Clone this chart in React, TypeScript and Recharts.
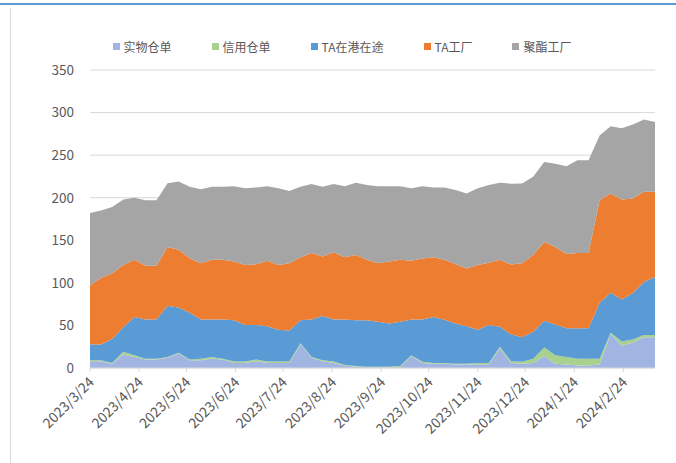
import React from "react"
import { AreaChart, Area, XAxis, YAxis, CartesianGrid, Legend } from "recharts"

const DATES = [
  "2023/3/24", "2023/3/31", "2023/4/7", "2023/4/14", "2023/4/21", "2023/4/28",
  "2023/5/5", "2023/5/12", "2023/5/19", "2023/5/26", "2023/6/2", "2023/6/9",
  "2023/6/16", "2023/6/23", "2023/6/30", "2023/7/7", "2023/7/14", "2023/7/21",
  "2023/7/28", "2023/8/4", "2023/8/11", "2023/8/18", "2023/8/25", "2023/9/1",
  "2023/9/8", "2023/9/15", "2023/9/22", "2023/9/29", "2023/10/6", "2023/10/13",
  "2023/10/20", "2023/10/27", "2023/11/3", "2023/11/10", "2023/11/17", "2023/11/24",
  "2023/12/1", "2023/12/8", "2023/12/15", "2023/12/22", "2023/12/29", "2024/1/5",
  "2024/1/12", "2024/1/19", "2024/1/26", "2024/2/2", "2024/2/9", "2024/2/16",
  "2024/2/23", "2024/3/1", "2024/3/8", "2024/3/15",
]

const SHIWU = [
  8, 8, 5, 16, 13, 10, 10, 12, 17, 9, 9, 11, 10, 6, 6, 8, 6, 6, 6, 28,
  12, 8, 6, 3, 1.5, 1, 0.5, 0.5, 1, 14, 6, 5, 5, 4, 4, 4.5, 4.5, 23, 6, 5,
  6, 14, 5, 4, 3, 3, 4, 40, 26, 30, 36, 36,
]
const XINYONG = [
  1.5, 1, 1, 3, 2, 1, 1, 1, 1, 1, 2, 2, 1, 1.5, 1.5, 2, 1.5, 1.5, 1.5, 1,
  1, 1, 1.5, 0.5, 0.8, 0.5, 1, 1, 1.3, 1, 1.4, 1, 1, 1, 1, 1.5, 1.5, 2, 2, 2.4,
  5, 10, 10, 9, 8, 8, 7, 1.5, 5, 3.6, 2.7, 2.7,
]
const TA_PORT = [
  18.5, 18.5, 28, 29, 45, 46, 46, 60, 53, 55, 46, 44, 46, 48.5, 43, 40.5, 41.5, 37.5, 36.5, 27,
  44, 52, 49.5, 53.5, 53.7, 54.5, 52.9, 50.9, 52.1, 42, 49.6, 54, 50.6, 47.4, 44, 39, 44.5, 23.5, 31.5, 28.6,
  31.6, 31.5, 36, 33.6, 35.6, 35.6, 65.7, 46.9, 49.6, 54.4, 62.3, 68.3,
]
const TA_FACTORY = [
  69, 78.5, 77, 73, 67, 63, 63, 69, 68, 64, 66, 70, 70, 69, 70.5, 71.5, 77, 76, 79, 74,
  78, 70, 79, 73, 76.6, 71, 68.6, 72.6, 72.6, 69, 71.7, 70, 70.4, 69.6, 68, 76, 73.1, 78.5, 82, 87,
  90, 92.5, 91, 87.4, 88.4, 88.4, 120.3, 116.6, 117.4, 111, 106, 100,
]
const POLY_FACTORY = [
  85, 79, 78, 77, 73, 77, 77, 75, 80, 84, 87, 86, 86, 88.6, 90, 90, 87.6, 90, 85, 83,
  81, 82, 80, 83.6, 85, 88, 90.6, 88.6, 86.6, 85, 84.9, 82, 85, 87, 88, 90, 91.2, 90.5, 95, 93.7,
  91.9, 94, 98, 103, 109, 109, 76, 79, 83.5, 87, 85, 82,
]

const TICK_LABELS = [
  "2023/3/24", "2023/4/24", "2023/5/24", "2023/6/24", "2023/7/24", "2023/8/24",
  "2023/9/24", "2023/10/24", "2023/11/24", "2023/12/24", "2024/1/24", "2024/2/24",
]
const Y_TICKS = [0, 50, 100, 150, 200, 250, 300, 350]

const SERIES = [
  { key: "shiwu", name: "实物仓单", color: "#a2b5e2", values: SHIWU },
  { key: "xinyong", name: "信用仓单", color: "#a9d18e", values: XINYONG },
  { key: "taPort", name: "TA在港在途", color: "#5b9bd5", values: TA_PORT },
  { key: "taFactory", name: "TA工厂", color: "#ed7d31", values: TA_FACTORY },
  { key: "polyFactory", name: "聚酯工厂", color: "#a5a5a5", values: POLY_FACTORY },
]

const FONT = "'Noto Sans CJK SC', 'Noto Sans', sans-serif"

function toTime(s: string): number {
  const [y, m, d] = s.split("/").map(Number)
  return Date.UTC(y, m - 1, d)
}

const data = DATES.map((d, i) => {
  const row: Record<string, number> = { t: toTime(d) }
  SERIES.forEach((s) => {
    row[s.key] = s.values[i]
  })
  return row
})

const tickTimes = TICK_LABELS.map(toTime)

function formatDate(v: number): string {
  const dt = new Date(v)
  return `${dt.getUTCFullYear()}/${dt.getUTCMonth() + 1}/${dt.getUTCDate()}`
}

type TickProps = {
  x?: number
  y?: number
  payload?: { value: number }
}

function DateTick({ x = 0, y = 0, payload }: TickProps) {
  return (
    <g transform={`translate(${x + 5},${y + 9})`}>
      <text
        textAnchor="end"
        fill="#595959"
        fontSize={14}
        fontFamily={FONT}
        transform="rotate(-45)"
      >
        {payload ? formatDate(payload.value) : ""}
      </text>
    </g>
  )
}

function LegendContent() {
  return (
    <div
      style={{
        display: "flex",
        justifyContent: "center",
        gap: 40,
        fontFamily: FONT,
        fontSize: 12,
        color: "#595959",
      }}
    >
      {SERIES.map((s) => (
        <div key={s.key} style={{ display: "flex", alignItems: "center" }}>
          <span
            style={{
              display: "inline-block",
              width: 7,
              height: 7,
              background: s.color,
              marginRight: 4,
            }}
          />
          <span>{s.name}</span>
        </div>
      ))}
    </div>
  )
}

export default function App() {
  return (
    <div
      style={{
        position: "absolute",
        left: 0,
        top: 0,
        width: 676,
        height: 463,
        background: "#fff",
        overflow: "hidden",
      }}
    >
      <div style={{ position: "absolute", left: 0, top: 3, width: 676, height: 2, background: "#5b9bd5" }} />
      <div style={{ position: "absolute", left: 10, top: 8, width: 1, height: 455, background: "#d9d9d9" }} />
      <div style={{ position: "absolute", left: 0, top: 0 }}>
        <AreaChart
          width={676}
          height={463}
          data={data}
          margin={{ top: 70, right: 21, left: 40, bottom: 0 }}
        >
          <CartesianGrid horizontal vertical={false} stroke="#d9d9d9" />
          <XAxis
            dataKey="t"
            type="number"
            scale="time"
            domain={[tickTimes[0], toTime(DATES[DATES.length - 1])]}
            ticks={tickTimes}
            tick={<DateTick />}
            interval={0}
            height={95}
            tickSize={4}
            tickMargin={2}
            axisLine={{ stroke: "#d9d9d9" }}
            tickLine={{ stroke: "#d9d9d9" }}
          />
          <YAxis
            domain={[0, 350]}
            ticks={Y_TICKS}
            width={50}
            axisLine={false}
            tickLine={false}
            tickSize={8}
            tickMargin={8}
            tick={{ fill: "#595959", fontSize: 13.5, fontFamily: FONT }}
          />
          <Legend
            verticalAlign="middle"
            align="center"
            content={<LegendContent />}
            wrapperStyle={{ top: 38, left: 0, width: 684 }}
          />
          {SERIES.map((s) => (
            <Area
              key={s.key}
              type="linear"
              dataKey={s.key}
              name={s.name}
              stackId="1"
              stroke="none"
              fill={s.color}
              fillOpacity={1}
              isAnimationActive={false}
            />
          ))}
        </AreaChart>
      </div>
    </div>
  )
}
